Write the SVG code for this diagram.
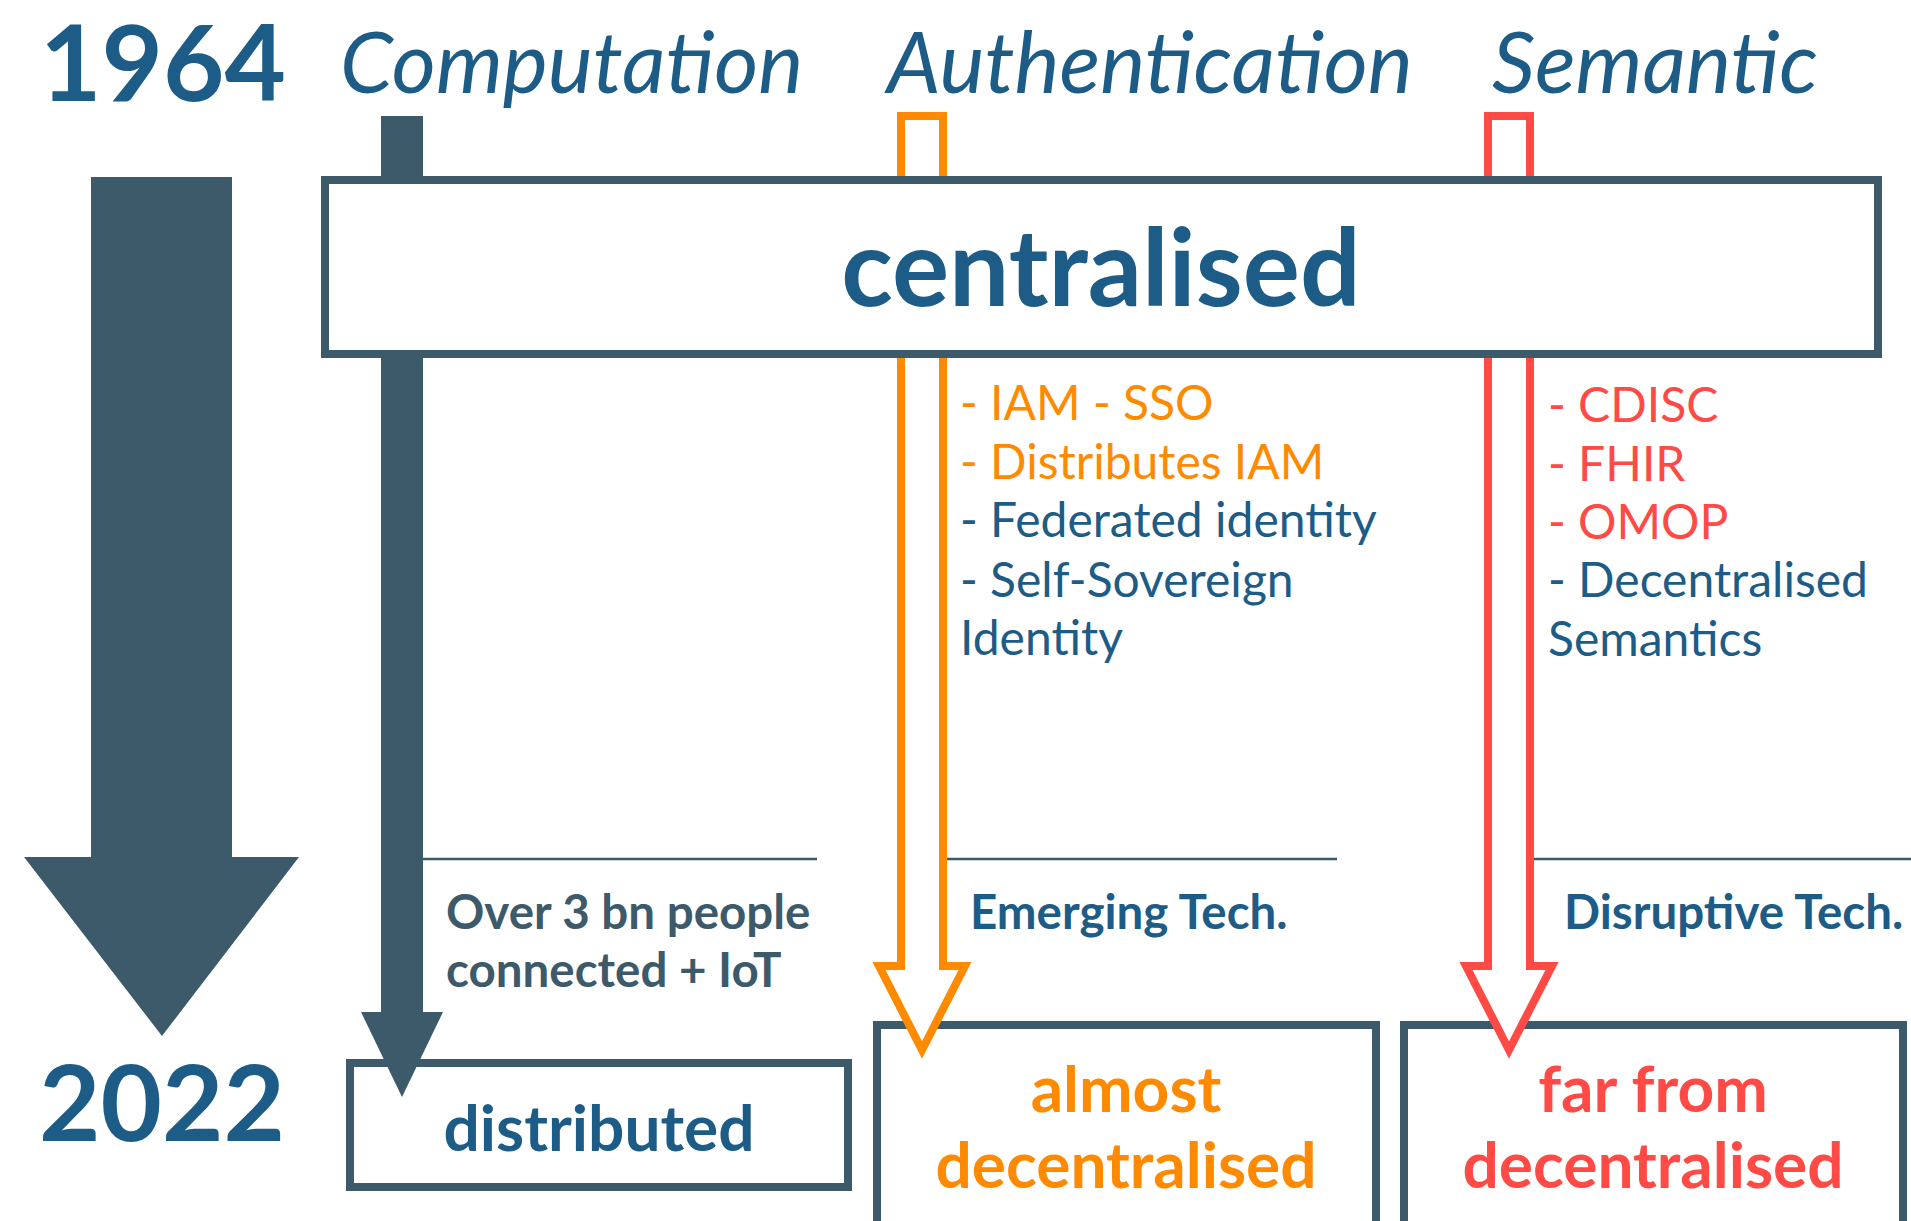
<svg xmlns="http://www.w3.org/2000/svg" width="1911" height="1221" viewBox="0 0 1911 1221">
<defs>
<style>
.t{font-family:Lato,"Open Sans","Liberation Sans",sans-serif}
.blue{fill:#1c5c86}
.slate{fill:#3d5a6b}
.org{fill:#ff8a00}
.red{fill:#ff4a45}
.year{font-size:106px;font-weight:700}
.cent{font-size:107px;font-weight:700}
.head{font-size:85px;font-style:italic}
.big{font-size:64px;font-weight:700}
.list{font-size:48px}
.note{font-size:47.5px;font-weight:700}
.box{fill:#fff;stroke:#3d5a6b;stroke-width:8}
.sep{stroke:#3d5a6b;stroke-width:2.5}
</style>
</defs>
<rect width="1911" height="1221" fill="#fff"/>
<g id="timeline">
<polygon class="slate" points="91,177 232,177 232,857 299,857 162,1036 24,857 91,857"/>
<text id="y1964" class="t year blue" x="40" y="101">1964</text>
<text id="y2022" class="t year blue" x="39" y="1141">2022</text>
</g>
<g id="heading-computation"><text class="t head blue" x="340" y="93">Computation</text></g>
<g id="heading-authentication"><text class="t head blue" x="887" y="93">Authentication</text></g>
<g id="heading-semantic"><text class="t head blue" x="1492" y="93">Semantic</text></g>
<g id="node-distributed">
<rect class="box" x="350" y="1063" width="498" height="124"/>
<text class="t big blue" x="599" y="1151" text-anchor="middle">distributed</text>
</g>
<g id="node-almost">
<rect class="box" x="877" y="1025" width="499" height="230"/>
<text class="t big org" x="1126" y="1112" text-anchor="middle">almost</text>
<text class="t big org" x="1126" y="1188" text-anchor="middle">decentralised</text>
</g>
<g id="node-far">
<rect class="box" x="1404" y="1025" width="499" height="230"/>
<text class="t big red" x="1653" y="1112" text-anchor="middle">far from</text>
<text class="t big red" x="1653" y="1188" text-anchor="middle">decentralised</text>
</g>
<g id="connectors">
<polygon class="slate" points="381,116 423,116 423,1012 443,1012 402,1097 361,1012 381,1012"/>
<path d="M901,116 H943 V966 H965 L922,1050 L879,966 H901 Z" fill="#fff" stroke="#ff8a00" stroke-width="8"/>
<path d="M1488,116 H1530 V966 H1552 L1509,1050 L1466,966 H1488 Z" fill="#fff" stroke="#ff4a45" stroke-width="8"/>
<line class="sep" x1="423" y1="859" x2="817" y2="859"/>
<line class="sep" x1="947" y1="859" x2="1337" y2="859"/>
<line class="sep" x1="1534" y1="859" x2="1911" y2="859"/>
</g>
<g id="node-centralised">
<rect class="box" x="325" y="180" width="1553" height="174"/>
<text class="t cent blue" x="1101" y="306" text-anchor="middle">centralised</text>
</g>
<g id="list-authentication" class="t list">
<text class="org" x="960" y="420">- IAM - SSO</text>
<text class="org" x="960" y="479">- Distributes IAM</text>
<text class="blue" x="960" y="537">- Federated identity</text>
<text class="blue" x="960" y="597">- Self-Sovereign</text>
<text class="blue" x="960" y="655">Identity</text>
</g>
<g id="list-semantic" class="t list">
<text class="red" x="1548" y="422">- CDISC</text>
<text class="red" x="1548" y="481">- FHIR</text>
<text class="red" x="1548" y="539">- OMOP</text>
<text class="blue" x="1548" y="597">- Decentralised</text>
<text class="blue" x="1548" y="656">Semantics</text>
</g>
<g id="note-computation" class="t note slate">
<text x="446" y="929">Over 3 bn people</text>
<text x="446" y="987">connected + IoT</text>
</g>
<g id="note-authentication"><text class="t note blue" x="970" y="929">Emerging Tech.</text></g>
<g id="note-semantic"><text class="t note blue" x="1564" y="929">Disruptive Tech.</text></g>
</svg>
